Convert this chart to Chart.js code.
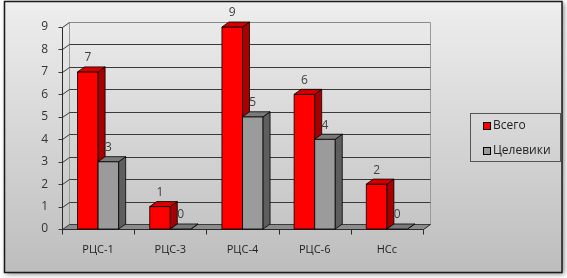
<!DOCTYPE html>
<html>
<head>
<meta charset="utf-8">
<script src="https://cdn.jsdelivr.net/npm/chart.js@4.4.1/dist/chart.umd.min.js"></script>
<style>
    html, body { margin: 0; padding: 0; background: #fff; }
    #chart-box { width: 567px; height: 278px; }
</style>
</head>
<body>
<div id="chart-box"><canvas id="barChart" width="567" height="278"></canvas></div>
<script>
// Chart data
const categories = ['РЦС-1', 'РЦС-3', 'РЦС-4', 'РЦС-6', 'НСс'];
const seriesNames = ['Всего', 'Целевики'];
const totalValues = [7, 1, 9, 6, 2];
const targetValues = [3, 0, 5, 4, 0];
const yMax = 9;

// 3D look of the bars and walls
const depthX = 7;
const depthY = 5;
const faceColors = [
    { front: '#ff0000', side: '#a80000', top: '#d40000' },
    { front: '#9b9b9b', side: '#5e5e5e', top: '#7a7a7a' }
];
const textFont = '"Open Sans", "Noto Sans", sans-serif';

function line(ctx, x1, y1, x2, y2) {
    ctx.beginPath();
    ctx.moveTo(x1, y1);
    ctx.lineTo(x2, y2);
    ctx.stroke();
}

// Background, border and shadow of the whole chart
const framePlugin = {
    id: 'frame',
    beforeDraw(chart) {
        const ctx = chart.ctx;
        ctx.save();
        ctx.fillStyle = '#ffffff';
        ctx.fillRect(0, 0, chart.width, chart.height);
        ctx.shadowColor = 'rgba(0, 0, 0, 0.5)';
        ctx.shadowBlur = 5;
        ctx.shadowOffsetX = 2;
        ctx.shadowOffsetY = 2;
        const g = ctx.createLinearGradient(0, 2, 0, 272);
        g.addColorStop(0, '#eeeeee');
        g.addColorStop(1, '#bdbdbd');
        ctx.fillStyle = g;
        ctx.fillRect(4, 1, 558, 271);
        ctx.shadowColor = 'transparent';
        ctx.strokeStyle = '#1a1a1a';
        ctx.lineWidth = 1.5;
        ctx.strokeRect(4.5, 1.5, 557.5, 271);
        ctx.restore();
    }
};

// Walls, floor, bars with depth and value labels
const boxesPlugin = {
    id: 'boxes',
    beforeDatasetsDraw(chart) {
        const ctx = chart.ctx;
        const ys = chart.scales.y;
        const xs = chart.scales.x;
        const left = Math.round(chart.chartArea.left) + 0.5;
        const right = Math.round(chart.chartArea.right) + 0.5;
        const base = Math.round(ys.getPixelForValue(0)) + 0.5;
        const top = Math.round(ys.getPixelForValue(yMax)) + 0.5;

        ctx.save();
        ctx.lineWidth = 1;

        // floor
        ctx.fillStyle = '#8c8c8c';
        ctx.beginPath();
        ctx.moveTo(left, base);
        ctx.lineTo(right, base);
        ctx.lineTo(right + depthX, base - depthY);
        ctx.lineTo(left + depthX, base - depthY);
        ctx.closePath();
        ctx.fill();

        // back wall edges
        ctx.strokeStyle = '#9a9a9a';
        line(ctx, left + depthX, top - depthY, left + depthX, base - depthY);
        line(ctx, right + depthX, top - depthY, right + depthX, base - depthY);

        // gridlines, side wall and ticks
        for (let v = 0; v <= yMax; v++) {
            const y = Math.round(ys.getPixelForValue(v)) + 0.5;
            ctx.strokeStyle = v === yMax ? '#8a8a8a' : '#3a3a3a';
            line(ctx, left + depthX, y - depthY, right + depthX, y - depthY);
            ctx.strokeStyle = '#3a3a3a';
            line(ctx, left, y, left + depthX, y - depthY);
            line(ctx, left - 4, y, left, y);
        }
        ctx.strokeStyle = '#2a2a2a';
        line(ctx, left, top, left, base);
        line(ctx, left, base, right, base);
        line(ctx, right, base, right + depthX, base - depthY);

        // category ticks
        const step = xs.getPixelForValue(1) - xs.getPixelForValue(0);
        for (let i = 0; i <= categories.length; i++) {
            const x = Math.round(xs.getPixelForValue(0) - step / 2 + i * step) + 0.5;
            line(ctx, x, base, x, base + 5);
        }

        // bars, drawn per category so the depth overlaps right
        ctx.strokeStyle = '#000000';
        ctx.lineWidth = 0.8;
        for (let i = 0; i < categories.length; i++) {
            chart.data.datasets.forEach((ds, d) => {
                const el = chart.getDatasetMeta(d).data[i];
                const c = faceColors[d];
                const x1 = el.x - el.width / 2;
                const x2 = el.x + el.width / 2;
                const yt = el.y;
                const yb = el.base;

                ctx.fillStyle = c.front;
                ctx.beginPath();
                ctx.rect(x1, yt, x2 - x1, yb - yt);
                ctx.fill();
                if (yb - yt > 0) ctx.stroke();

                ctx.fillStyle = c.side;
                ctx.beginPath();
                ctx.moveTo(x2, yt);
                ctx.lineTo(x2 + depthX, yt - depthY);
                ctx.lineTo(x2 + depthX, yb - depthY);
                ctx.lineTo(x2, yb);
                ctx.closePath();
                ctx.fill();
                ctx.stroke();

                ctx.fillStyle = c.top;
                ctx.beginPath();
                ctx.moveTo(x1, yt);
                ctx.lineTo(x1 + depthX, yt - depthY);
                ctx.lineTo(x2 + depthX, yt - depthY);
                ctx.lineTo(x2, yt);
                ctx.closePath();
                ctx.fill();
                ctx.stroke();
            });
        }

        // value labels
        ctx.fillStyle = '#404040';
        ctx.font = '12px ' + textFont;
        ctx.textAlign = 'center';
        ctx.textBaseline = 'middle';
        chart.data.datasets.forEach((ds, d) => {
            chart.getDatasetMeta(d).data.forEach((el, i) => {
                ctx.fillText(String(ds.data[i]), el.x, el.y - 14);
            });
        });

        ctx.restore();
        return false;
    },
    afterDraw(chart) {
        // legend box
        const ctx = chart.ctx;
        ctx.save();
        ctx.strokeStyle = '#555555';
        ctx.lineWidth = 1;
        ctx.strokeRect(470.5, 113.5, 90, 48);
        ctx.font = '12px ' + textFont;
        ctx.textBaseline = 'middle';
        ctx.textAlign = 'left';
        chart.data.datasets.forEach((ds, d) => {
            const y = 122 + d * 25;
            ctx.fillStyle = faceColors[d].front;
            ctx.fillRect(483, y, 7, 7);
            ctx.strokeStyle = '#000000';
            ctx.strokeRect(483.5, y + 0.5, 7, 7);
            ctx.fillStyle = '#222222';
            ctx.fillText(ds.label, 493, y + 4);
        });
        ctx.restore();
    }
};

const ctx = document.getElementById('barChart');
new Chart(ctx, {
    type: 'bar',
    data: {
        labels: categories,
        datasets: [{
            label: seriesNames[0],
            data: totalValues,
            backgroundColor: faceColors[0].front
        }, {
            label: seriesNames[1],
            data: targetValues,
            backgroundColor: faceColors[1].front
        }]
    },
    options: {
        responsive: false,
        animation: false,
        layout: {
            padding: { top: 27, right: 144, bottom: 0, left: 0 }
        },
        datasets: {
            bar: { categoryPercentage: 0.57, barPercentage: 1 }
        },
        plugins: {
            legend: { display: false },
            tooltip: { enabled: false }
        },
        scales: {
            x: {
                grid: { display: false, drawTicks: false },
                border: { display: false },
                ticks: {
                    color: '#222222',
                    padding: 14,
                    font: { family: textFont, size: 11 }
                },
                afterFit: function(scale) { scale.height = 49; }
            },
            y: {
                min: 0,
                max: yMax,
                grid: { display: false, drawTicks: false },
                border: { display: false },
                ticks: {
                    stepSize: 1,
                    color: '#333333',
                    padding: 14,
                    font: { family: textFont, size: 12 }
                },
                afterFit: function(scale) { scale.width = 62; }
            }
        }
    },
    plugins: [framePlugin, boxesPlugin]
});
</script>
</body>
</html>
